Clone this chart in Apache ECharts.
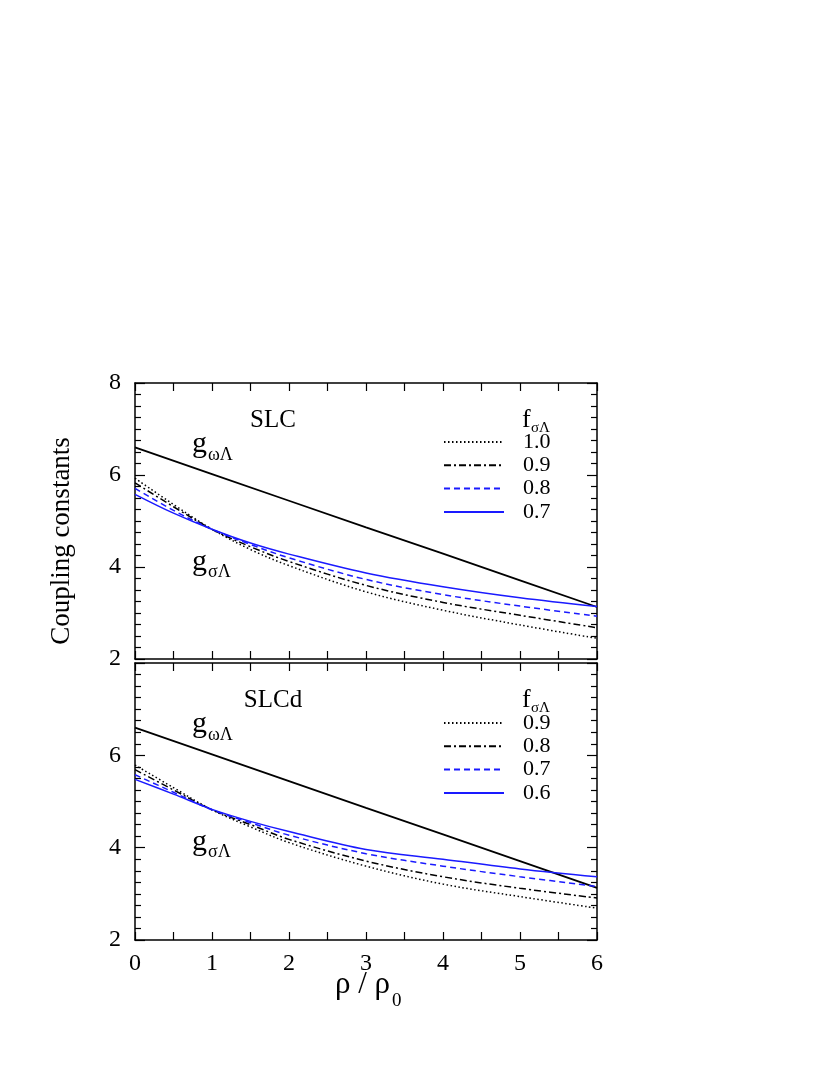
<!DOCTYPE html>
<html>
<head>
<meta charset="utf-8">
<script src="https://cdn.jsdelivr.net/npm/echarts@6/dist/echarts.min.js"></script>
<style>
html,body{margin:0;padding:0;background:#fff;}
#main{width:830px;height:1075px;}
</style>
</head>
<body>
<div id="main"></div>
<script>
// density points rho/rho0
var rhoPts = [0, 0.5, 1, 1.5, 2, 3, 4, 5, 6];
var omegaX = [0, 1, 2, 3, 4, 5, 6];

// SLC (top)
var slcOmega = [6.60, 6.02, 5.44, 4.86, 4.29, 3.71, 3.13];
var slcF10 = [5.93, 5.36, 4.82, 4.38, 4.03, 3.46, 3.06, 2.74, 2.45];
var slcF09 = [5.83, 5.31, 4.82, 4.44, 4.12, 3.60, 3.23, 2.95, 2.68];
var slcF08 = [5.71, 5.23, 4.82, 4.49, 4.20, 3.73, 3.40, 3.15, 2.93];
var slcF07 = [5.58, 5.17, 4.82, 4.52, 4.28, 3.87, 3.57, 3.33, 3.14];

// SLCd (bottom)
var slcdOmega = [6.60, 6.02, 5.44, 4.86, 4.29, 3.71, 3.13];
var slcdF09 = [5.79, 5.30, 4.82, 4.45, 4.11, 3.60, 3.21, 2.94, 2.69];
var slcdF08 = [5.69, 5.25, 4.82, 4.50, 4.18, 3.71, 3.37, 3.12, 2.91];
var slcdF07 = [5.58, 5.20, 4.82, 4.54, 4.27, 3.87, 3.60, 3.37, 3.16];
var slcdF06 = [5.48, 5.16, 4.83, 4.57, 4.35, 3.96, 3.75, 3.54, 3.37];

var topLabels = ['1.0', '0.9', '0.8', '0.7'];
var botLabels = ['0.9', '0.8', '0.7', '0.6'];

var serif = 'Liberation Serif, Times New Roman, Times, serif';
var blue = '#1a1aff';

function pairs(xs, ys) {
    var out = [];
    for (var i = 0; i < xs.length; i++) out.push([xs[i], ys[i]]);
    return out;
}

// 线型
var styles = [
    {color: '#000', type: [1.5, 2.5]},
    {color: '#000', type: [7, 3, 2, 3]},
    {color: blue, type: [6, 4]},
    {color: blue, type: 'solid'}
];

function xAxisDef(grid, pos, labels) {
    return {
        type: 'value', gridIndex: grid, position: pos, min: 0, max: 6, interval: 1,
        axisLine: {show: true, onZero: false, lineStyle: {color: '#000', width: 1.5}},
        axisTick: {show: true, inside: true, length: 8, lineStyle: {color: '#000', width: 1.2}},
        minorTick: {show: true, splitNumber: 2, length: 8, lineStyle: {color: '#000', width: 1.2}},
        splitLine: {show: false},
        axisLabel: {show: labels, color: '#000', fontFamily: serif, fontSize: 24, margin: 12}
    };
}

function yAxisDef(grid, pos, labels, hideMax) {
    return {
        type: 'value', gridIndex: grid, position: pos, min: 2, max: 8, interval: 2,
        axisLine: {show: true, onZero: false, lineStyle: {color: '#000', width: 1.5}},
        axisTick: {show: true, inside: true, length: 10, lineStyle: {color: '#000', width: 1.2}},
        minorTick: {show: true, splitNumber: 8, length: 6, lineStyle: {color: '#000', width: 1.2}},
        splitLine: {show: false},
        axisLabel: {show: labels, color: '#000', fontFamily: serif, fontSize: 24, margin: 14,
            showMaxLabel: !hideMax}
    };
}

var series = [];
function addPanel(grid, prefix, omega, curves, labels) {
    series.push({
        name: prefix + ' omega', type: 'line', xAxisIndex: grid * 2, yAxisIndex: grid * 2,
        data: pairs(omegaX, omega), symbol: 'none',
        lineStyle: {color: '#000', width: 1.8}
    });
    for (var i = 0; i < curves.length; i++) {
        series.push({
            name: prefix + ' ' + labels[i], type: 'line', xAxisIndex: grid * 2, yAxisIndex: grid * 2,
            data: pairs(rhoPts, curves[i]), symbol: 'none', smooth: 0.35,
            color: styles[i].color,
            lineStyle: {color: styles[i].color, type: styles[i].type, width: 1.5}
        });
    }
}
addPanel(0, 'SLC', slcOmega, [slcF10, slcF09, slcF08, slcF07], topLabels);
addPanel(1, 'SLCd', slcdOmega, [slcdF09, slcdF08, slcdF07, slcdF06], botLabels);

function legendDef(prefix, labels, top) {
    return {
        left: 438, top: top, orient: 'vertical',
        data: labels.map(function (l) { return prefix + ' ' + l; }),
        itemWidth: 60, itemHeight: 12, itemGap: 1.3,
        selectedMode: false,
        itemStyle: {opacity: 0},
        formatter: function (name) { return name.split(' ')[1]; },
        textStyle: {fontFamily: serif, fontSize: 22, color: '#000', lineHeight: 22, padding: [0, 0, 0, 14]}
    };
}

function txt(x, y, s, size, extra) {
    var o = {
        type: 'text', x: x, y: y,
        style: {text: s, fontFamily: serif, fontSize: size, fill: '#000',
            align: 'left', verticalAlign: 'middle'}
    };
    if (extra) for (var k in extra) o.style[k] = extra[k];
    return o;
}

var graphics = [
    {type: 'text', x: 62, y: 541, rotation: Math.PI / 2,
     style: {text: 'Coupling constants', fontFamily: serif, fontSize: 27, fill: '#000',
             align: 'center', verticalAlign: 'middle'}},
    txt(335, 985, 'ρ / ρ', 31),
    txt(392, 1001, '0', 19)
];
[0, 280].forEach(function (dy, p) {
    graphics.push(txt(273, 420 + dy, p === 0 ? 'SLC' : 'SLCd', 25, {align: 'center'}));
    graphics.push(txt(192, 444 + dy, 'g', 30));
    graphics.push(txt(208, 455 + dy, 'ωΛ', 18));
    graphics.push(txt(192, 562 + dy, 'g', 30));
    graphics.push(txt(208, 572 + dy, 'σΛ', 18));
    graphics.push(txt(522, 420 + dy, 'f', 26));
    graphics.push(txt(531, 428 + dy, 'σΛ', 15));
});

var chart = echarts.init(document.getElementById('main'));
var option = {
    animation: false,
    backgroundColor: '#fff',
    grid: [
        {left: 135, top: 383, width: 462, height: 276},
        {left: 135, top: 663, width: 462, height: 277}
    ],
    xAxis: [
        xAxisDef(0, 'bottom', false), xAxisDef(0, 'top', false),
        xAxisDef(1, 'bottom', true), xAxisDef(1, 'top', false)
    ],
    yAxis: [
        yAxisDef(0, 'left', true, false), yAxisDef(0, 'right', false, false),
        yAxisDef(1, 'left', true, true), yAxisDef(1, 'right', false, false)
    ],
    legend: [legendDef('SLC', topLabels, 426), legendDef('SLCd', botLabels, 707)],
    graphic: graphics,
    series: series
};
chart.setOption(option);
</script>
</body>
</html>
